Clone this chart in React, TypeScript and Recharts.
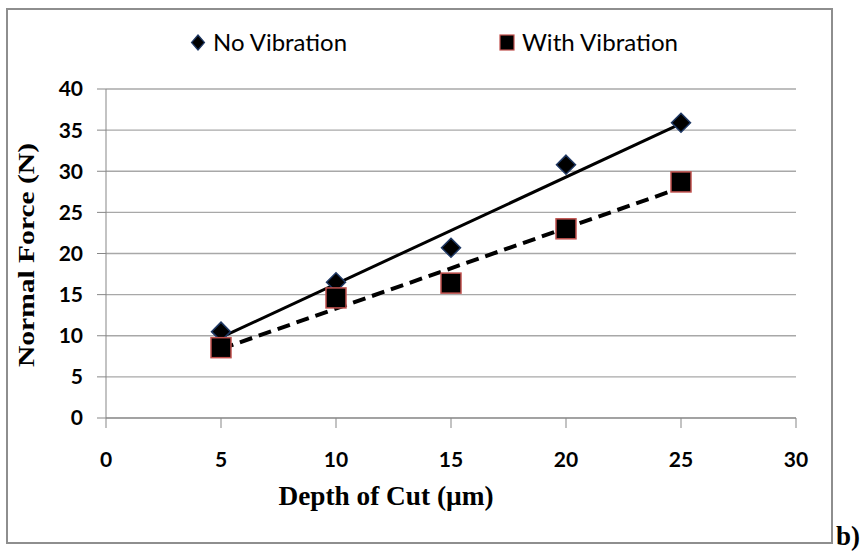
import { ScatterChart, Scatter, XAxis, YAxis, CartesianGrid } from 'recharts'

// depth of cut (µm) and normal force (N)
const depthOfCut = [5, 10, 15, 20, 25]
const noVibration = [10.5, 16.5, 20.7, 30.8, 35.9]
const withVibration = [8.55, 14.6, 16.4, 23.0, 28.7]

// linear trendlines, end points
const trendDepth = [5, 25]
const noVibrationTrend = [9.8, 35.8]
const withVibrationTrend = [8.4, 28.0]

const xTicks = [0, 5, 10, 15, 20, 25, 30]
const yTicks = [0, 5, 10, 15, 20, 25, 30, 35, 40]

const toPoints = (xs: number[], ys: number[]) => xs.map((x, i) => ({ x, y: ys[i] }))

const noVibData = toPoints(depthOfCut, noVibration)
const withVibData = toPoints(depthOfCut, withVibration)
const noVibTrendData = toPoints(trendDepth, noVibrationTrend)
const withVibTrendData = toPoints(trendDepth, withVibrationTrend)

const AXIS_GREY = '#878787'
const tickStyle = { fill: '#000', fontSize: 21, fontFamily: 'Lato', fontWeight: 700 }

const Diamond = (p: any) => {
    const r = 9.5
    return (
        <polygon
            points={`${p.cx},${p.cy - r} ${p.cx + r},${p.cy} ${p.cx},${p.cy + r} ${p.cx - r},${p.cy}`}
            fill="#000"
            stroke="#1f3864"
            strokeWidth={1.5}
        />
    )
}

const Square = (p: any) => (
    <rect x={p.cx - 10} y={p.cy - 10} width={20} height={20} fill="#000" stroke="#c0504d" strokeWidth={1.5} />
)

const NoMarker = () => <g />

export default function App() {
    return (
        <div style={{ position: 'absolute', left: 0, top: 0, width: 865, height: 552, background: '#fff' }}>
            {/* outer chart frame */}
            <div
                style={{
                    position: 'absolute', left: 6, top: 8, width: 827, height: 536,
                    boxSizing: 'border-box', border: '2px solid #8e8e8e',
                }}
            />
            <ScatterChart width={865} height={552} margin={{ top: 89, right: 69, bottom: 0, left: 0 }}>
                <CartesianGrid vertical={false} stroke="#a8a8a8" strokeWidth={1.3} />
                <XAxis
                    type="number"
                    dataKey="x"
                    domain={[0, 30]}
                    ticks={xTicks}
                    interval={0}
                    height={134}
                    tickSize={10}
                    tickMargin={24}
                    tick={tickStyle}
                    axisLine={{ stroke: AXIS_GREY }}
                    tickLine={{ stroke: AXIS_GREY }}
                    label={{
                        content: (props: any) => {
                            const vb = props.viewBox
                            return (
                                <text
                                    x={vb.x + 280}
                                    y={vb.y + 87}
                                    textAnchor="middle"
                                    fontFamily="Liberation Serif"
                                    fontWeight={700}
                                    fontSize={27}
                                    textLength={215}
                                    lengthAdjust="spacingAndGlyphs"
                                    fill="#000"
                                >
                                    Depth of Cut (µm)
                                </text>
                            )
                        },
                    }}
                />
                <YAxis
                    type="number"
                    dataKey="y"
                    domain={[0, 40]}
                    ticks={yTicks}
                    interval={0}
                    width={106}
                    tickSize={9}
                    tickMargin={14}
                    tick={tickStyle}
                    axisLine={{ stroke: AXIS_GREY }}
                    tickLine={{ stroke: AXIS_GREY }}
                    label={{
                        content: () => (
                            <text
                                x={33.7}
                                y={255}
                                transform="rotate(-90, 33.7, 255)"
                                textAnchor="middle"
                                fontFamily="Liberation Serif"
                                fontWeight={700}
                                fontSize={24}
                                textLength={224}
                                lengthAdjust="spacingAndGlyphs"
                                fill="#000"
                            >
                                Normal Force (N)
                            </text>
                        ),
                    }}
                />
                <Scatter
                    data={noVibTrendData}
                    shape={NoMarker}
                    line={{ stroke: '#000', strokeWidth: 3 }}
                    stroke="#000"
                    isAnimationActive={false}
                />
                <Scatter
                    data={withVibTrendData}
                    shape={NoMarker}
                    line={{ stroke: '#000', strokeWidth: 4, strokeDasharray: '13 7' }}
                    stroke="#000"
                    isAnimationActive={false}
                />
                <Scatter name="No Vibration" data={noVibData} shape={Diamond} isAnimationActive={false} />
                <Scatter name="With Vibration" data={withVibData} shape={Square} isAnimationActive={false} />
            </ScatterChart>

            {/* legend + panel label */}
            <svg width={865} height={552} style={{ position: 'absolute', left: 0, top: 0, pointerEvents: 'none' }}>
                <polygon points="198,35 204.5,42.5 198,50 191.5,42.5" fill="#000" stroke="#1f3864" strokeWidth={1.2} />
                <text x={213} y={51} fontFamily="Lato" fontSize={23} textLength={134} lengthAdjust="spacingAndGlyphs" fill="#000">
                    No Vibration
                </text>
                <rect x={500} y={35} width={14} height={15} fill="#000" stroke="#c0504d" strokeWidth={1.2} />
                <text x={522} y={51} fontFamily="Lato" fontSize={23} textLength={156} lengthAdjust="spacingAndGlyphs" fill="#000">
                    With Vibration
                </text>
                <text x={836} y={545} fontFamily="Liberation Serif" fontWeight={700} fontSize={27} fill="#000">
                    b)
                </text>
            </svg>
        </div>
    )
}
